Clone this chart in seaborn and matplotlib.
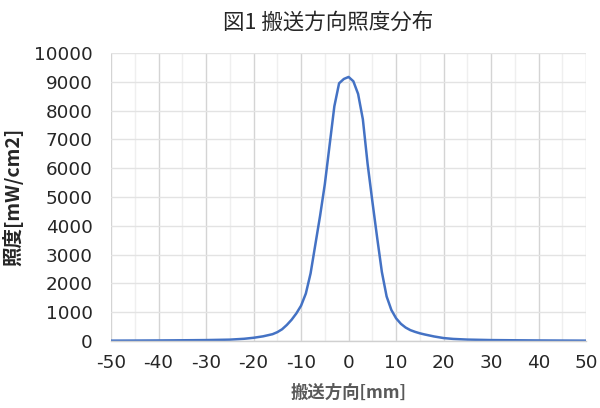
import matplotlib
matplotlib.use("Agg")
import matplotlib.pyplot as plt
import seaborn as sns
import pandas as pd
from matplotlib.ticker import MultipleLocator

pos_mm = [-50, -45, -40, -35, -30, -25, -22, -20, -18, -16, -15, -14, -13, -12, -11,
          -10, -9, -8, -7, -6, -5, -4, -3, -2, -1, 0, 1, 2, 3, 4, 5, 6, 7, 8, 9,
          10, 11, 12, 13, 14, 15, 16, 18, 20, 22, 25, 30, 35, 40, 45, 50]
irradiance = [15, 18, 22, 28, 35, 50, 80, 115, 165, 240, 310, 410, 560, 740, 960,
              1230, 1650, 2350, 3350, 4350, 5450, 6800, 8150, 8950, 9100, 9170,
              9020, 8580, 7700, 6150, 4850, 3600, 2400, 1550, 1080,
              790, 600, 470, 380, 320, 270, 230, 160, 105, 75, 52, 35, 28, 22, 18, 15]

title = "図1 搬送方向照度分布"
xlabel = "搬送方向[mm]"
ylabel = "照度[mW/cm2]"

df = pd.DataFrame({"x": pos_mm, "y": irradiance})

sns.set_style("white")
plt.rcParams['font.family'] = ['Noto Sans CJK JP', 'DejaVu Sans']
plt.rcParams['axes.unicode_minus'] = False

fig = plt.figure(figsize=(6, 4.08), dpi=100)
ax = fig.add_axes([0.185, 0.164, 0.792, 0.706])

ax.xaxis.set_major_locator(MultipleLocator(10))
ax.xaxis.set_minor_locator(MultipleLocator(5))
ax.yaxis.set_major_locator(MultipleLocator(1000))
ax.grid(axis='x', which='major', color='#d4d4d4', linewidth=1.0)
ax.grid(axis='x', which='minor', color='#efefef', linewidth=1.0)
ax.grid(axis='y', which='major', color='#e3e3e3', linewidth=1.0)
ax.set_axisbelow(True)

sns.lineplot(data=df, x="x", y="y", ax=ax, color="#4472C4", linewidth=1.8)

ax.set_xlim(-50, 50)
ax.set_ylim(0, 10000)
for s in ['top', 'right', 'left']:
    ax.spines[s].set_visible(False)
ax.spines['bottom'].set_color('#d0d0d0')
ax.spines['bottom'].set_linewidth(1.0)

ax.tick_params(axis='both', which='both', length=0, labelsize=13.2, labelcolor='#262626')
for lab in ax.get_xticklabels() + ax.get_yticklabels():
    lab.set_family('DejaVu Sans')
ax.tick_params(axis='y', pad=13)
ax.tick_params(axis='x', pad=9)

ax.set_xlabel(xlabel, fontsize=12.5, fontweight='bold', color='#595959', labelpad=9)
ax.set_ylabel(ylabel, fontsize=14, fontweight='bold', color='#262626', labelpad=8)

fig.text(0.547, 0.945, title, ha='center', va='center', fontsize=15.5, color='#262626')

fig.savefig("out.png", dpi=100, facecolor='white')
